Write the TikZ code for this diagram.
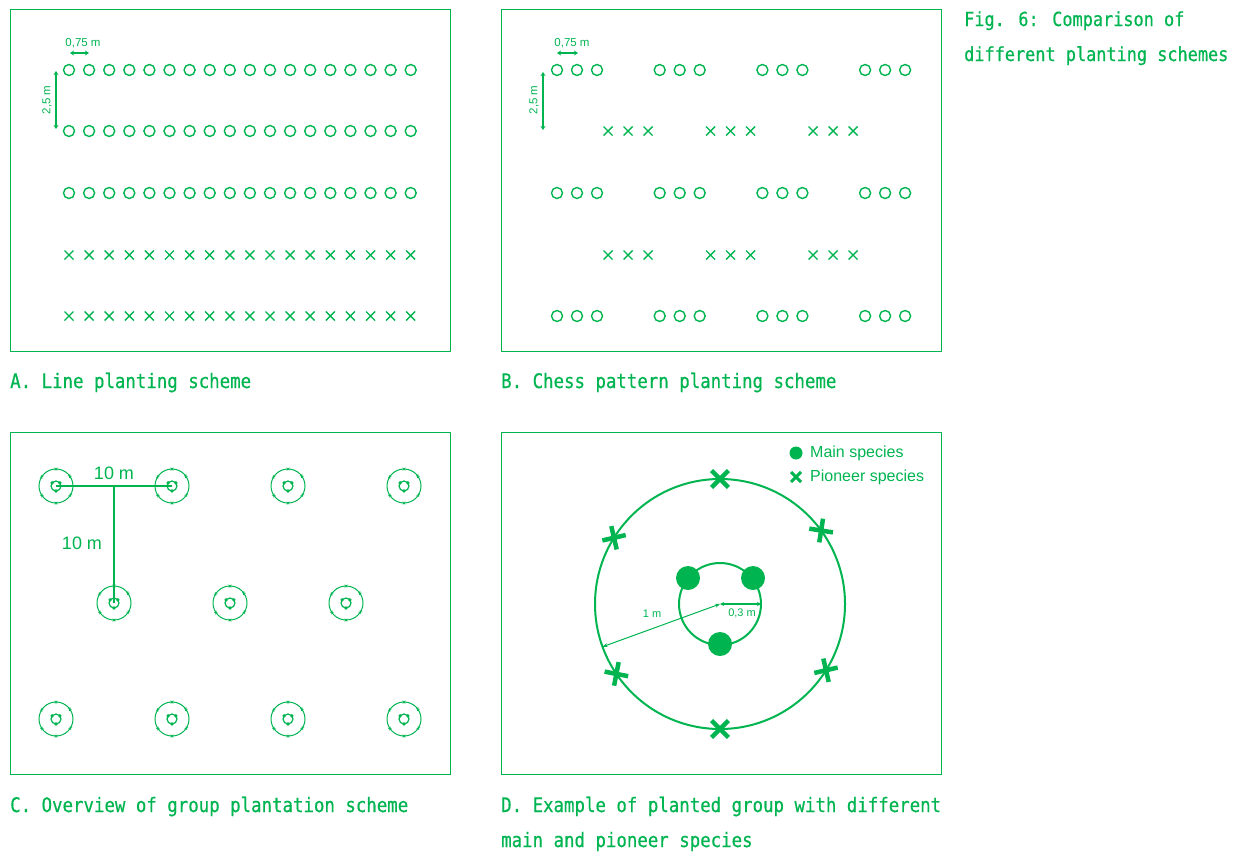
\documentclass[tikz,border=0pt]{standalone}
\usepackage{fontspec}
\setmainfont{Liberation Sans}
\newfontfamily\capfont[FakeStretch=0.87,FakeBold=0.5]{DejaVu Sans Mono}
\usetikzlibrary{calc,arrows.meta}
\definecolor{gr}{RGB}{0,180,80}
\tikzset{
  panel/.style={draw=gr,line width=1pt},
  captxt/.style={anchor=base west,inner sep=0pt,text=gr,font=\capfont\fontsize{20}{20}\selectfont},
  figtxt/.style={captxt,font=\capfont\fontsize{19.4}{20}\selectfont},
  lbl/.style={inner sep=0pt,text=gr},
  tree/.style={draw=gr,line width=1.4pt},
  dimarr/.style={draw=gr,line width=2pt,{Stealth[length=4pt,width=5pt]}-{Stealth[length=4pt,width=5pt]}},
  thinarr/.style={draw=gr,line width=1pt,{Stealth[length=5pt,width=4pt]}-{Stealth[length=5pt,width=4pt]}},
  circ/.pic={\draw[tree] (0,0) circle[radius=5.5];},
  smallx/.pic={\draw[tree] (-4.5,-4.5) -- (4.5,4.5) (-4.5,4.5) -- (4.5,-4.5);},
  group/.pic={
    \draw[draw=gr,line width=1pt] (0,0) circle[radius=17];
    \draw[draw=gr,line width=1.2pt] (0,0) circle[radius=5];
    \foreach \a in {-141,-39,90} \fill[gr] (\a:5) circle[radius=1.8];
    \foreach \a in {-90,-36,32,90,146,212}
      \draw[gr,line width=0.7pt] ($(\a:17)+(\a+45:1.8)$) -- ($(\a:17)-(\a+45:1.8)$)
                                  ($(\a:17)+(\a-45:1.8)$) -- ($(\a:17)-(\a-45:1.8)$);
  }
}
\begin{document}
\begin{tikzpicture}[x=1pt,y=-1pt]
\useasboundingbox (0,0) rectangle (1241,854);
% panels
\draw[panel] (10,9) rectangle (450,351);
\draw[panel] (501,9) rectangle (941,351);
\draw[panel] (10,432) rectangle (450,774);
\draw[panel] (501,432) rectangle (941,774);
% captions
\node[captxt] (capA) at (10,388) {A. Line planting scheme};
\node[captxt] (capB) at (501,388) {B. Chess pattern planting scheme};
\node[captxt] (capC) at (10,812) {C. Overview of group plantation scheme};
\node[captxt] (capD1) at (501,812) {D. Example of planted group with different};
\node[captxt] (capD2) at (501,847) {main and pioneer species};
\node[figtxt] (fig1) at (964,26) {Fig. 6: Comparison of};
\node[figtxt] (fig2) at (964,61) {different planting schemes};
% ---------- Panel A ----------
\foreach \i in {0,...,17}{
  \foreach \y in {70,131,193} \pic at ({69+20.1*\i},\y) {circ};
  \foreach \y in {255,316} \pic at ({69+20.1*\i},\y) {smallx};
}
\coordinate (a1) at (70,53); \coordinate (a2) at (89,53);
\draw[dimarr] (a1) -- (a2);
\node[lbl,font=\fontsize{11.5}{12}\selectfont] (la) at (83,43) {0,75 m};
\coordinate (a3) at (56,71); \coordinate (a4) at (56,129);
\draw[dimarr] (a3) -- (a4);
\node[lbl,font=\fontsize{11.5}{12}\selectfont,rotate=90] (lb) at (47,100) {2,5 m};
% ---------- Panel B ----------
\foreach \g in {0,1,2,3}{
  \foreach \k in {0,1,2}{
    \foreach \y in {70,193,316} \pic at ({557+102.7*\g+20*\k},\y) {circ};
  }
}
\foreach \g in {0,1,2}{
  \foreach \k in {0,1,2}{
    \foreach \y in {131,255} \pic at ({608+102.5*\g+20*\k},\y) {smallx};
  }
}
\coordinate (b1) at (557,53); \coordinate (b2) at (578,53);
\draw[dimarr] (b1) -- (b2);
\node[lbl,font=\fontsize{11.5}{12}\selectfont] (lc) at (572,43) {0,75 m};
\coordinate (b3) at (543,72); \coordinate (b4) at (543,130);
\draw[dimarr] (b3) -- (b4);
\node[lbl,font=\fontsize{11.5}{12}\selectfont,rotate=90] (ld) at (534,100) {2,5 m};
% ---------- Panel C ----------
\foreach \x in {56,172,288,404}{
  \pic at (\x,486) {group};
  \pic at (\x,719) {group};
}
\foreach \x in {114,230,346} \pic at (\x,603) {group};
\coordinate (c1) at (56,486); \coordinate (c2) at (172,486);
\coordinate (c3) at (114,486); \coordinate (c4) at (114,603);
\draw[gr,line width=1.3pt] (c1) -- (c2);
\draw[gr,line width=1.3pt] (c3) -- (c4);
\node[lbl,font=\fontsize{18}{18}\selectfont] (l10a) at (114,473) {10 m};
\node[lbl,font=\fontsize{18}{18}\selectfont] (l10b) at (82,543) {10 m};
% ---------- Panel D ----------
\coordinate (dc) at (720,604);
\draw[gr,line width=2pt] (dc) circle[radius=125];
\draw[gr,line width=2pt] (dc) circle[radius=41];
\foreach \p in {(688,578),(753,578),(720,644)} \fill[gr] \p circle[radius=12];
\foreach \a in {-90,-36,32,90,146,212}
  \draw[gr,line width=4.5pt] ($(dc)+(\a:125)+(\a+45:12)$) -- ($(dc)+(\a:125)-(\a+45:12)$)
                              ($(dc)+(\a:125)+(\a-45:12)$) -- ($(dc)+(\a:125)-(\a-45:12)$);
\coordinate (d1) at ($(dc)+(160:125)$);
\coordinate (d2) at ($(dc)+(0:41)$);
\draw[thinarr] (dc) -- (d1);
\draw[dimarr,{Stealth[length=4pt,width=4pt]}-{Stealth[length=4pt,width=4pt]}] (dc) -- (d2);
\node[lbl,font=\fontsize{11}{11}\selectfont] (l1m) at (652,614) {1 m};
\node[lbl,font=\fontsize{11}{11}\selectfont] (l03) at (742,613) {0,3 m};
% legend
\fill[gr] (796,453) circle[radius=6.5];
\draw[gr,line width=3pt] (791,472) -- (801,482) (791,482) -- (801,472);
\node[lbl,anchor=west,font=\fontsize{16}{16}\selectfont] (lm) at (810,453) {Main species};
\node[lbl,anchor=west,font=\fontsize{16}{16}\selectfont] (lp) at (810,477) {Pioneer species};
\end{tikzpicture}
\end{document}
